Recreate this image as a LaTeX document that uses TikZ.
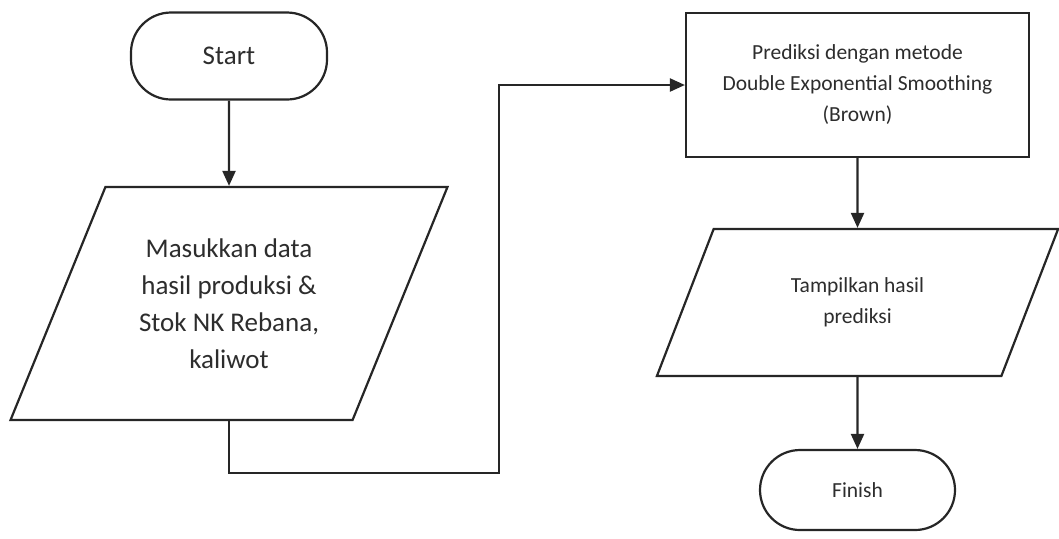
\documentclass[tikz,border=0pt]{standalone}
\usepackage{fontspec}
\setmainfont{Carlito}
\usetikzlibrary{shapes.geometric,arrows.meta}
\definecolor{flowStroke}{RGB}{38,38,38}
\definecolor{flowText}{RGB}{45,45,45}

\begin{document}
\begin{tikzpicture}[
  x=0.5pt,
  y=-0.5pt,
  box/.style={draw=flowStroke, line width=1.1pt, fill=white, text=flowText, align=center, inner sep=0pt},
  terminal/.style={box, rectangle, rounded corners=20pt},
  ioBox/.style={box, trapezium, trapezium left angle=62, trapezium right angle=118, trapezium stretches=true},
  procBox/.style={box, rectangle},
  bigText/.style={font=\fontsize{13.5}{18.5}\selectfont},
  smallText/.style={font=\fontsize{10.75}{15.5}\selectfont},
  flow/.style={draw=flowStroke, line width=1.1pt, -{Triangle[length=7.5pt, width=6.5pt]}}
]
  \useasboundingbox (0,0) rectangle (1059,538);

  % left column
  \node[terminal, bigText, minimum width=98pt, minimum height=43.5pt] (start) at (229,56) {Start};
  \node[ioBox, bigText, minimum width=219pt, minimum height=116.5pt] (input) at (229,303.5)
    {Masukkan data\\hasil produksi \&\\Stok NK Rebana,\\kaliwot};

  % right column
  \node[procBox, smallText, minimum width=171.5pt, minimum height=72pt] (predict) at (857.5,85)
    {Prediksi dengan metode\\Double Exponential Smoothing\\(Brown)};
  \node[ioBox, smallText, minimum width=202pt, minimum height=73.5pt] (output) at (857.5,302.5)
    {Tampilkan hasil\\prediksi};
  \node[terminal, smallText, minimum width=97.5pt, minimum height=40pt] (finish) at (857.5,490) {Finish};

  \coordinate (loopCorner) at (499,473);

  \draw[flow] (start) -- (input);
  \draw[flow] (input.south) |- (loopCorner) |- (predict.west);
  \draw[flow] (predict) -- (output);
  \draw[flow] (output) -- (finish);
\end{tikzpicture}
\end{document}
